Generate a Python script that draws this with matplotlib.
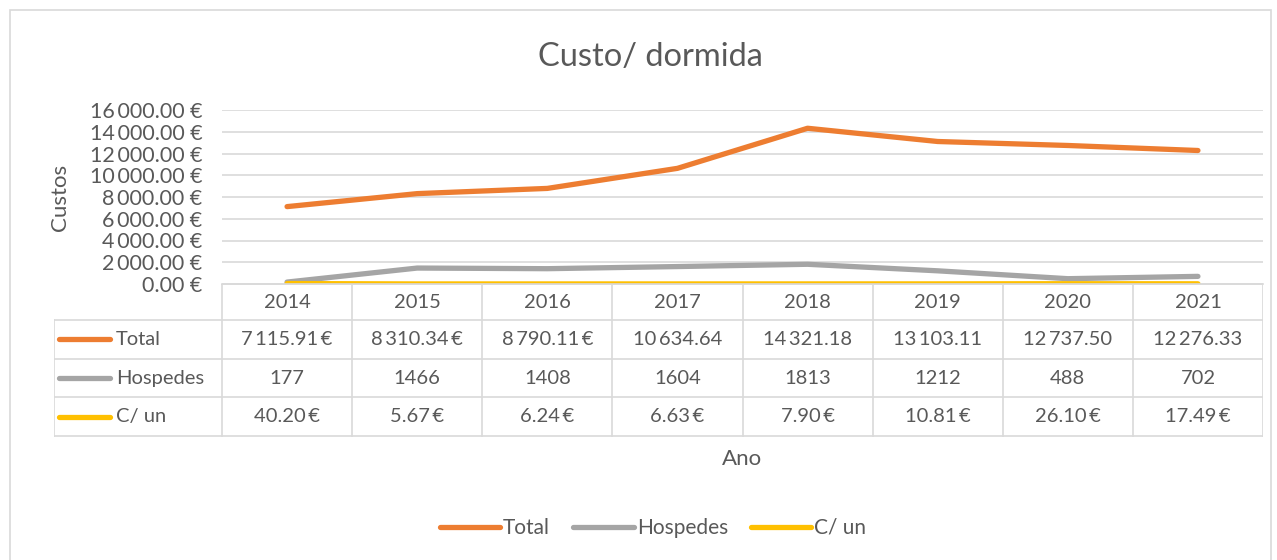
import matplotlib.pyplot as plt
from matplotlib.lines import Line2D
from matplotlib.patches import Rectangle

# data
anos = ["2014", "2015", "2016", "2017", "2018", "2019", "2020", "2021"]
total = [7115.91, 8310.34, 8790.11, 10634.64, 14321.18, 13103.11, 12737.50, 12276.33]
hospedes = [177, 1466, 1408, 1604, 1813, 1212, 488, 702]
c_un = [40.20, 5.67, 6.24, 6.63, 7.90, 10.81, 26.10, 17.49]
series_names = ["Total", "Hospedes", "C/ un"]
y_ticks = [0, 2000, 4000, 6000, 8000, 10000, 12000, 14000, 16000]

colors = ["#ED7D31", "#A5A5A5", "#FFC000"]
txt = "#595959"
grid = "#D9D9D9"
fs = 14.5

plt.rcParams['font.family'] = ['Lato', 'DejaVu Sans']

W, H = 1277, 560
fig = plt.figure(figsize=(W / 100, H / 100), dpi=100)


def fbox(x0, y0, x1, y1):
    # pixel box (top-left origin) -> figure fraction rect
    return [x0 / W, 1 - y1 / H, (x1 - x0) / W, (y1 - y0) / H]


def money(v, euro=True):
    s = f"{v:,.2f}".replace(",", "\u2009")
    return s + "\u2009€" if euro else s


# chart border
fig.patches.append(Rectangle((10 / W, -0.05), (1261 / W), 1 - 10 / H + 0.05,
                             transform=fig.transFigure, fill=False,
                             edgecolor="#D9D9D9", lw=1.2))

fig.text(650 / W, 1 - 57 / H, "Custo/ dormida", ha="center", va="center",
         fontsize=23.5, color=txt)

# main plot
ax = fig.add_axes(fbox(222, 110, 1263, 284))
x = range(len(anos))
for vals, c in zip([total, hospedes, c_un], colors):
    ax.plot(x, vals, color=c, lw=3.8, solid_capstyle="round")
ax.set_xlim(-0.5, len(anos) - 0.5)
ax.set_ylim(0, 16000)
ax.set_yticks(y_ticks)
ax.set_yticklabels([money(v).replace("\u2009€", " €") for v in y_ticks],
                   fontsize=15.5, color=txt)
ax.tick_params(axis="y", length=0, pad=14)
ax.tick_params(axis="x", length=0, labelbottom=False)
ax.grid(axis="y", color=grid, lw=1.2)
ax.set_axisbelow(True)
for s in ["top", "right", "left"]:
    ax.spines[s].set_visible(False)
ax.spines["bottom"].set_color(grid)
ax.spines["bottom"].set_linewidth(1.2)
ax.set_xticks(list(x))

fig.text(60 / W, 1 - 197 / H, "Custos", rotation=90, ha="center", va="center",
         fontsize=16, color=txt)

# data table
tab = fig.add_axes(fbox(54, 284, 1263, 437))
lab_w = 168 / 130.1
tab.set_xlim(-0.5 - lab_w, len(anos) - 0.5)
rows_y = [284, 320, 358.7, 397.4, 436]
tab.set_ylim(437, 284)
tab.axis("off")
lk = dict(color=grid, lw=1.2)
left = -0.5 - lab_w
right = len(anos) - 0.5
# horizontal lines
tab.plot([-0.5, right], [rows_y[0]] * 2, **lk)
for yy in rows_y[1:]:
    tab.plot([left, right], [yy, yy], **lk)
# vertical lines
for i in range(len(anos) + 1):
    tab.plot([i - 0.5, i - 0.5], [rows_y[0], rows_y[-1]], **lk)
tab.plot([left, left], [rows_y[1], rows_y[-1]], **lk)

for i, a in enumerate(anos):
    tab.text(i, (rows_y[0] + rows_y[1]) / 2, a, ha="center", va="center",
             fontsize=fs, color=txt)
cells = [
    [money(v, v < 10000) for v in total],
    [str(v) for v in hospedes],
    [money(v) for v in c_un],
]
for r, (name, c, row) in enumerate(zip(series_names, colors, cells)):
    yc = (rows_y[r + 1] + rows_y[r + 2]) / 2
    tab.plot([left + 5 / 130.1, left + 56 / 130.1], [yc, yc], color=c, lw=3.8,
             solid_capstyle="round")
    tab.text(left + 62 / 130.1, yc, name, ha="left", va="center",
             fontsize=fs, color=txt)
    for i, s in enumerate(row):
        tab.text(i, yc, s, ha="center", va="center", fontsize=fs, color=txt)

fig.text(742 / W, 1 - 459 / H, "Ano", ha="center", va="center",
         fontsize=16, color=txt)

handles = [Line2D([], [], color=c, lw=3.8, solid_capstyle="round") for c in colors]
leg = fig.legend(handles, series_names, loc="center", bbox_to_anchor=(653 / W, 1 - 528 / H),
                 ncol=3, frameon=False, fontsize=15, handlelength=2.9,
                 handletextpad=0.15, columnspacing=1.1)
for t in leg.get_texts():
    t.set_color(txt)

fig.savefig("out.png", dpi=100)
